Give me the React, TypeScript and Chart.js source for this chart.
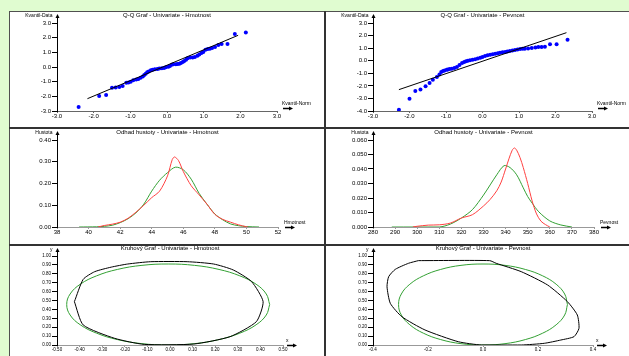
import React, { useEffect, useRef } from 'react';
import { Chart, registerables } from 'chart.js';
Chart.register(...registerables);

const FONT = "'Liberation Sans', Arial, sans-serif";

// ---------- data ----------
const qqHmotnostPoints = [
  [-2.41, -2.73], [-1.85, -1.98], [-1.66, -1.91], [-1.50, -1.41], [-1.40, -1.39], [-1.30, -1.36],
  [-1.21, -1.30], [-1.11, -1.07], [-1.05, -1.05], [-0.99, -1.0], [-0.92, -0.91], [-0.84, -0.86],
  [-0.78, -0.82], [-0.72, -0.73], [-0.66, -0.64], [-0.62, -0.55], [-0.58, -0.46], [-0.54, -0.36],
  [-0.50, -0.30], [-0.44, -0.23], [-0.39, -0.18], [-0.33, -0.16], [-0.26, -0.14], [-0.21, -0.11],
  [-0.14, -0.09], [-0.08, -0.07], [-0.03, -0.02], [0.04, 0.02], [0.08, 0.07], [0.13, 0.16],
  [0.17, 0.18], [0.24, 0.18], [0.29, 0.21], [0.34, 0.23], [0.38, 0.27], [0.43, 0.34],
  [0.47, 0.41], [0.52, 0.50], [0.56, 0.59], [0.63, 0.64], [0.70, 0.64], [0.76, 0.68],
  [0.83, 0.77], [0.88, 0.86], [0.94, 0.96], [0.99, 1.02], [1.05, 1.18], [1.11, 1.23],
  [1.17, 1.25], [1.23, 1.30], [1.31, 1.36], [1.40, 1.50], [1.49, 1.57], [1.65, 1.57],
  [1.85, 2.25], [2.15, 2.36]
];
const qqHmotnostLine = [[-2.17, -2.16], [1.94, 2.16]];

const qqPevnostPoints = [
  [-2.29, -3.90], [-2.00, -3.02], [-1.84, -2.41], [-1.70, -2.28], [-1.56, -2.04], [-1.45, -1.77],
  [-1.36, -1.51], [-1.25, -1.30], [-1.18, -1.10], [-1.13, -0.90], [-1.08, -0.82], [-1.04, -0.77],
  [-0.98, -0.72], [-0.95, -0.69], [-0.90, -0.66], [-0.84, -0.63], [-0.77, -0.58], [-0.70, -0.50],
  [-0.63, -0.35], [-0.56, -0.18], [-0.50, -0.10], [-0.45, -0.05], [-0.40, 0.00], [-0.34, 0.03],
  [-0.27, 0.07], [-0.20, 0.11], [-0.13, 0.18], [-0.06, 0.24], [0.00, 0.30], [0.07, 0.37],
  [0.14, 0.43], [0.21, 0.48], [0.28, 0.52], [0.35, 0.56], [0.42, 0.60], [0.48, 0.64],
  [0.55, 0.67], [0.62, 0.69], [0.68, 0.73], [0.75, 0.77], [0.82, 0.81], [0.89, 0.85],
  [0.96, 0.89], [1.03, 0.93], [1.10, 0.95], [1.16, 0.96], [1.25, 0.98], [1.35, 1.01],
  [1.45, 1.05], [1.53, 1.09], [1.62, 1.10], [1.71, 1.12], [1.85, 1.30], [2.03, 1.30],
  [2.33, 1.67]
];
const qqPevnostLine = [[-2.29, -2.30], [2.30, 2.23]];

const densHmotnostKde = [
  [40.6, 0], [41.0, 0.007], [41.5, 0.013], [42.0, 0.022], [42.5, 0.04], [43.0, 0.068],
  [43.5, 0.1], [44.0, 0.135], [44.5, 0.165], [45.0, 0.235], [45.3, 0.31], [45.45, 0.322],
  [45.7, 0.305], [46.0, 0.255], [46.5, 0.19], [47.0, 0.148], [47.5, 0.105], [48.0, 0.058],
  [48.5, 0.035], [49.0, 0.022], [49.5, 0.01], [50.0, 0.001], [50.1, 0]
];
const densHmotnostNormal = [
  [39.4, 0], [40.5, 0.001], [41.0, 0.003], [41.5, 0.008], [42.0, 0.02], [42.5, 0.038],
  [43.0, 0.065], [43.5, 0.105], [44.0, 0.165], [44.5, 0.215], [45.0, 0.25], [45.5, 0.275],
  [46.0, 0.263], [46.5, 0.22], [47.0, 0.155], [47.5, 0.105], [48.0, 0.06], [48.5, 0.033],
  [49.0, 0.014], [49.5, 0.006], [50.0, 0.002], [50.8, 0]
];

const densPevnostKde = [
  [298, 0], [300, 0.0005], [305, 0.0013], [310, 0.0015], [315, 0.0027], [320, 0.0062],
  [325, 0.0085], [330, 0.0145], [333, 0.019], [336, 0.025], [338, 0.031], [340, 0.04],
  [341.5, 0.047], [343, 0.053], [344, 0.0545], [345, 0.053], [346.5, 0.048], [348, 0.041],
  [350, 0.03], [352, 0.018], [354, 0.009], [356, 0.004], [358, 0.0017], [360, 0]
];
const densPevnostNormal = [
  [288.5, 0], [310, 0], [315, 0.002], [320, 0.0062], [325, 0.012], [330, 0.022], [333, 0.029],
  [336, 0.036], [339.3, 0.0423], [342, 0.041], [345, 0.036], [348, 0.027], [350, 0.021],
  [352, 0.0165], [355, 0.0105], [360, 0.0042], [365, 0.0014], [370, 0]
];

const ellHmotnostData = [
  [-0.423, 0.487], [-0.384, 0.738], [-0.333, 0.824], [-0.260, 0.875], [-0.187, 0.910], [-0.085, 0.936],
  [0.076, 0.936], [0.193, 0.910], [0.280, 0.843], [0.361, 0.712], [0.412, 0.487], [0.382, 0.262],
  [0.266, 0.094], [0.105, 0.011], [-0.114, 0.007], [-0.245, 0.075], [-0.384, 0.225], [-0.423, 0.487]
];
const ellHmotnostNormal = [
  [0.441, 0.455], [0.426, 0.573], [0.381, 0.683], [0.309, 0.777], [0.217, 0.849], [0.108, 0.895],
  [-0.008, 0.910], [-0.124, 0.895], [-0.233, 0.849], [-0.325, 0.777], [-0.397, 0.683], [-0.442, 0.573],
  [-0.457, 0.455], [-0.442, 0.337], [-0.397, 0.227], [-0.325, 0.133], [-0.233, 0.061], [-0.124, 0.015],
  [-0.008, 0.000], [0.108, 0.015], [0.217, 0.061], [0.309, 0.133], [0.381, 0.227], [0.426, 0.337],
  [0.441, 0.455]
];

const ellPevnostData = [
  [-0.235, 0.948], [0.024, 0.948], [0.048, 0.918], [0.139, 0.824], [0.235, 0.674], [0.307, 0.487],
  [0.343, 0.337], [0.349, 0.187], [0.331, 0.094], [0.283, 0.056], [0.223, 0.019], [0.139, 0.0],
  [-0.006, 0.0], [-0.090, 0.037], [-0.211, 0.169], [-0.295, 0.318], [-0.337, 0.468], [-0.349, 0.655],
  [-0.343, 0.768], [-0.319, 0.850], [-0.271, 0.918], [-0.235, 0.948]
];
const ellPevnostNormal = [
  [0.307, 0.455], [0.297, 0.573], [0.266, 0.683], [0.217, 0.777], [0.154, 0.849], [0.080, 0.895],
  [0, 0.910], [-0.080, 0.895], [-0.154, 0.849], [-0.217, 0.777], [-0.266, 0.683], [-0.297, 0.573],
  [-0.307, 0.455], [-0.297, 0.337], [-0.266, 0.227], [-0.217, 0.133], [-0.154, 0.061], [-0.080, 0.015],
  [0, 0], [0.080, 0.015], [0.154, 0.061], [0.217, 0.133], [0.266, 0.227], [0.297, 0.337],
  [0.307, 0.455]
];

const titles = [
  'Q-Q Graf - Univariate - Hmotnost',
  'Q-Q Graf - Univariate - Pevnost',
  'Odhad hustoty - Univariate - Hmotnost',
  'Odhad hustoty - Univariate - Pevnost',
  'Kruhový Graf - Univariate - Hmotnost',
  'Kruhový Graf - Univariate - Pevnost'
];
const yTitles = ['Kvantil-Data', 'Kvantil-Data', 'Hustota', 'Hustota', 'y', 'y'];
const xTitles = ['Kvantil-Norm', 'Kvantil-Norm', 'Hmotnost', 'Pevnost', 'x', 'x'];

// ---------- helpers ----------
const pts = (arr: number[][]) => arr.map(([x, y]) => ({ x, y }));

const decorPlugin = {
  id: 'decor',
  afterDraw(chart: any, _args: any, o: any) {
    const { ctx, chartArea: a } = chart;
    ctx.save();
    const ax = Math.round(a.left) + 0.5;
    const topY = a.top - o.yExt;
    ctx.strokeStyle = '#000';
    ctx.fillStyle = '#000';
    ctx.lineWidth = 1;
    ctx.beginPath();
    ctx.moveTo(ax, a.top);
    ctx.lineTo(ax, topY + 1);
    ctx.stroke();
    ctx.beginPath();
    ctx.moveTo(ax, topY - 2);
    ctx.lineTo(ax - 2, topY + 2);
    ctx.lineTo(ax + 2, topY + 2);
    ctx.closePath();
    ctx.fill();
    ctx.font = `5px ${FONT}`;
    ctx.textAlign = 'right';
    ctx.textBaseline = 'middle';
    ctx.fillText(o.yTitle, ax - 5, topY);
    // title
    ctx.font = `6px ${FONT}`;
    ctx.textAlign = 'center';
    ctx.fillText(o.title, (a.left + a.right) / 2, a.top - 7.5);
    // x arrow
    const by = Math.round(a.bottom) + 0.5 - o.xUp;
    const x0 = a.right + o.xOff;
    ctx.lineWidth = 1.5;
    ctx.beginPath();
    ctx.moveTo(x0, by);
    ctx.lineTo(x0 + 7, by);
    ctx.stroke();
    ctx.beginPath();
    ctx.moveTo(x0 + 10, by);
    ctx.lineTo(x0 + 6, by - 2);
    ctx.lineTo(x0 + 6, by + 2);
    ctx.closePath();
    ctx.fill();
    ctx.font = `5px ${FONT}`;
    ctx.textAlign = 'left';
    ctx.textBaseline = 'bottom';
    ctx.fillText(o.xTitle, x0 - 1, by - 2);
    ctx.restore();
  }
};

type Spec = {
  left: number; top: number; w: number; h: number;
  padRight: number; padTop: number; xH: number;
  xMin: number; xMax: number; xStep: number; xDec: number;
  yMin: number; yMax: number; yStep: number; yDec: number;
  tickFont: number; xAxisColor: string;
  datasets: any[];
  idx: number; yExt: number; xOff: number; xUp: number;
};

function buildConfig(s: Spec): any {
  return {
    type: 'scatter',
    data: { datasets: s.datasets },
    plugins: [decorPlugin],
    options: {
      responsive: false,
      maintainAspectRatio: false,
      animation: false,
      events: [],
      layout: { padding: { left: 0, right: s.padRight, top: s.padTop, bottom: 0 } },
      plugins: {
        legend: { display: false },
        tooltip: { enabled: false },
        decor: { title: titles[s.idx], yTitle: yTitles[s.idx], xTitle: xTitles[s.idx], yExt: s.yExt, xOff: s.xOff, xUp: s.xUp }
      },
      scales: {
        x: {
          type: 'linear', min: s.xMin, max: s.xMax,
          afterFit: (sc: any) => { sc.height = s.xH; },
          border: { display: true, color: s.xAxisColor, width: 1 },
          grid: { display: true, drawOnChartArea: false, drawTicks: true, tickLength: 2, color: s.xAxisColor },
          ticks: {
            stepSize: s.xStep, autoSkip: false, maxRotation: 0, minRotation: 0, padding: 0,
            color: '#000', font: { family: FONT, size: s.tickFont },
            callback: (v: any) => Number(v).toFixed(s.xDec)
          }
        },
        y: {
          type: 'linear', min: s.yMin, max: s.yMax,
          afterFit: (sc: any) => { sc.width = 47; },
          border: { display: true, color: '#000', width: 1 },
          grid: { display: true, drawOnChartArea: false, drawTicks: true, tickLength: 5, color: '#000' },
          ticks: {
            stepSize: s.yStep, autoSkip: false, padding: 1,
            color: '#000', font: { family: FONT, size: s.tickFont },
            callback: (v: any) => Number(v).toFixed(s.yDec)
          }
        }
      }
    }
  };
}

const dotSet = (d: number[][]) => ({ data: pts(d), pointRadius: 2, pointBackgroundColor: '#0000ff', pointBorderWidth: 0, showLine: false });
const lineSet = (d: number[][], color: string, tension: number, width = 1) => ({
  data: pts(d), showLine: true, borderColor: color, borderWidth: width, pointRadius: 0, tension, fill: false
});

const RED = '#ff4040';
const GREEN = '#33a033';

const specs: Spec[] = [
  {
    idx: 0, left: 10, top: 12, w: 314, h: 115, padRight: 47, padTop: 11, xH: 16,
    xMin: -3, xMax: 3, xStep: 1, xDec: 1, yMin: -3, yMax: 3, yStep: 1, yDec: 1,
    tickFont: 6, xAxisColor: '#666', yExt: 7, xOff: 6, xUp: 3,
    datasets: [lineSet(qqHmotnostLine, '#000', 0), dotSet(qqHmotnostPoints)]
  },
  {
    idx: 1, left: 326, top: 12, w: 303, h: 115, padRight: 37, padTop: 11, xH: 16,
    xMin: -3, xMax: 3, xStep: 1, xDec: 1, yMin: -4, yMax: 3, yStep: 1, yDec: 1,
    tickFont: 6, xAxisColor: '#666', yExt: 7, xOff: 6, xUp: 3,
    datasets: [lineSet(qqPevnostLine, '#000', 0), dotSet(qqPevnostPoints)]
  },
  {
    idx: 2, left: 10, top: 129, w: 314, h: 115, padRight: 46, padTop: 11, xH: 17,
    xMin: 38, xMax: 52, xStep: 2, xDec: 0, yMin: 0, yMax: 0.4, yStep: 0.1, yDec: 2,
    tickFont: 6, xAxisColor: '#999', yExt: 7, xOff: 7, xUp: 0,
    datasets: [lineSet(densHmotnostKde, RED, 0.3), lineSet(densHmotnostNormal, GREEN, 0.3)]
  },
  {
    idx: 3, left: 326, top: 129, w: 303, h: 115, padRight: 35, padTop: 11, xH: 17,
    xMin: 280, xMax: 380, xStep: 10, xDec: 0, yMin: 0, yMax: 0.06, yStep: 0.01, yDec: 3,
    tickFont: 6, xAxisColor: '#999', yExt: 7, xOff: 7, xUp: 0,
    datasets: [lineSet(densPevnostKde, RED, 0.3), lineSet(densPevnostNormal, GREEN, 0.3)]
  },
  {
    idx: 4, left: 10, top: 246, w: 314, h: 110, padRight: 41, padTop: 10, xH: 11,
    xMin: -0.5, xMax: 0.5, xStep: 0.1, xDec: 2, yMin: 0, yMax: 1, yStep: 0.1, yDec: 2,
    tickFont: 4.5, xAxisColor: '#999', yExt: 6, xOff: 4, xUp: 0,
    datasets: [lineSet(ellHmotnostData, '#000', 0.2), lineSet(ellHmotnostNormal, GREEN, 0.4)]
  },
  {
    idx: 5, left: 326, top: 246, w: 303, h: 110, padRight: 36, padTop: 10, xH: 11,
    xMin: -0.4, xMax: 0.4, xStep: 0.2, xDec: 1, yMin: 0, yMax: 1, yStep: 0.1, yDec: 2,
    tickFont: 4.5, xAxisColor: '#999', yExt: 6, xOff: 4, xUp: 0,
    datasets: [lineSet(ellPevnostData, '#000', 0.2), lineSet(ellPevnostNormal, GREEN, 0.4)]
  }
];

function Panel({ spec }: { spec: Spec }) {
  const ref = useRef<HTMLCanvasElement | null>(null);
  useEffect(() => {
    if (!ref.current) return;
    const chart = new Chart(ref.current, buildConfig(spec));
    return () => chart.destroy();
  }, [spec]);
  return (
    <canvas
      ref={ref}
      width={spec.w}
      height={spec.h}
      style={{ position: 'absolute', left: spec.left, top: spec.top, width: spec.w, height: spec.h }}
    />
  );
}

export default function App() {
  return (
    <div style={{ position: 'absolute', left: 0, top: 0, width: 629, height: 356, overflow: 'hidden', background: '#e0fcd0' }}>
      <div style={{ position: 'absolute', left: 9, top: 11, width: 640, height: 360, background: '#fff', borderLeft: '1px solid #505050', borderTop: '1px solid #505050' }} />
      <div style={{ position: 'absolute', left: 324, top: 11, width: 2, height: 360, background: '#333' }} />
      <div style={{ position: 'absolute', left: 9, top: 127, width: 640, height: 2, background: '#333' }} />
      <div style={{ position: 'absolute', left: 9, top: 244, width: 640, height: 2, background: '#333' }} />
      {specs.map((s) => <Panel key={s.idx} spec={s} />)}
    </div>
  );
}
